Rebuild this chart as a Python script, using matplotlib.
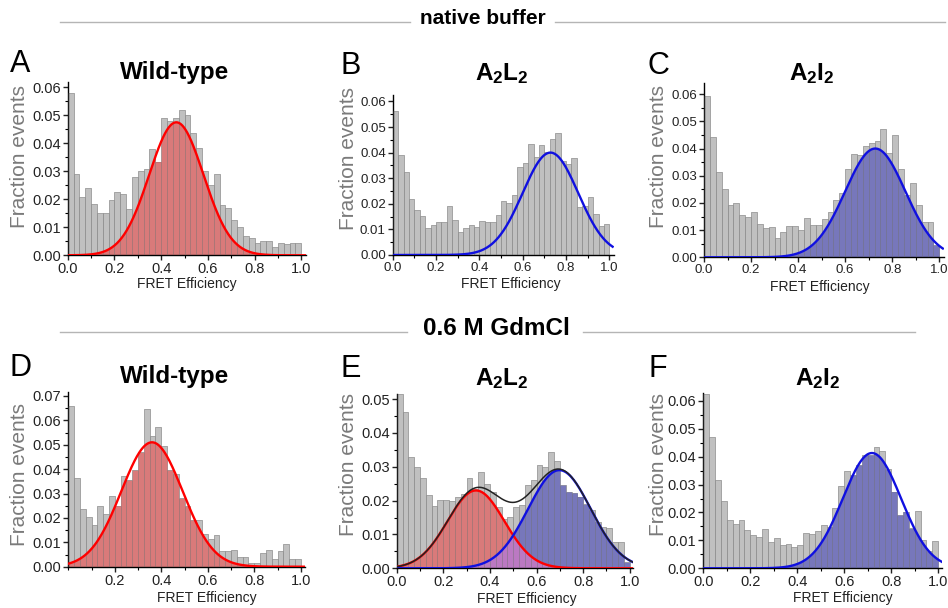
import numpy as np
import matplotlib.pyplot as plt
from matplotlib.ticker import MultipleLocator, FormatStrFormatter

plt.rcParams['font.family'] = ['Liberation Sans', 'DejaVu Sans']
plt.rcParams['mathtext.fontset'] = 'custom'
plt.rcParams['mathtext.bf'] = 'Liberation Sans:bold'

# ------------------------------------------------------------
# Data: 40 bins of width 0.025 on FRET efficiency 0..1
# ------------------------------------------------------------
bin_edges = np.linspace(0.0, 1.0, 41)

hist_a = [0.058, 0.029, 0.0207, 0.024, 0.0183, 0.015, 0.015, 0.0196,
          0.0226, 0.022, 0.0165, 0.028, 0.030, 0.031, 0.038, 0.0335,
          0.049, 0.048, 0.049, 0.052, 0.050, 0.0436, 0.0385, 0.030,
          0.025, 0.029, 0.018, 0.017, 0.0125, 0.010, 0.0069, 0.0061,
          0.0043, 0.0052, 0.0052, 0.003, 0.0045, 0.0039, 0.0045, 0.0045]
hist_b = [0.0563, 0.039, 0.0323, 0.022, 0.0177, 0.0154, 0.0105, 0.0119,
          0.013, 0.0127, 0.019, 0.0135, 0.0091, 0.0105, 0.0116, 0.0111,
          0.0134, 0.0127, 0.0129, 0.0157, 0.0211, 0.0205, 0.0233, 0.0342,
          0.036, 0.0434, 0.0384, 0.0428, 0.0403, 0.0452, 0.0477, 0.0367,
          0.0357, 0.038, 0.0189, 0.0192, 0.0228, 0.0162, 0.0115, 0.012]
hist_c = [0.0595, 0.0442, 0.0315, 0.0252, 0.0194, 0.0199, 0.0156, 0.0147,
          0.0168, 0.0121, 0.0107, 0.0113, 0.0071, 0.0094, 0.0115, 0.0115,
          0.010, 0.0146, 0.0119, 0.0117, 0.0141, 0.0168, 0.0211, 0.0236,
          0.0324, 0.038, 0.0377, 0.041, 0.042, 0.0428, 0.0472, 0.0383,
          0.045, 0.0324, 0.023, 0.0275, 0.0193, 0.0129, 0.0128, 0.0045]
hist_d = [0.066, 0.0364, 0.0235, 0.0202, 0.0171, 0.025, 0.0218, 0.029,
          0.025, 0.037, 0.0355, 0.0396, 0.0469, 0.0646, 0.0535, 0.0574,
          0.0495, 0.0396, 0.038, 0.028, 0.0248, 0.0191, 0.0191, 0.0136,
          0.0112, 0.013, 0.0065, 0.0065, 0.007, 0.004, 0.004, 0.0016,
          0.0016, 0.0055, 0.007, 0.0031, 0.0065, 0.0095, 0.0031, 0.003]
hist_e = [0.0514, 0.0463, 0.0328, 0.0298, 0.0268, 0.0217, 0.0184, 0.0202,
          0.0202, 0.020, 0.021, 0.022, 0.0268, 0.0233, 0.0285, 0.0248,
          0.0226, 0.0182, 0.0146, 0.0153, 0.0182, 0.0187, 0.0246, 0.026,
          0.0305, 0.030, 0.0344, 0.0317, 0.0246, 0.0226, 0.0223, 0.0212,
          0.0189, 0.0172, 0.0138, 0.0123, 0.0118, 0.0079, 0.0079, 0.0018]
hist_f = [0.0624, 0.0472, 0.0317, 0.0241, 0.0174, 0.0158, 0.0174, 0.0137,
          0.012, 0.0112, 0.0141, 0.0096, 0.0108, 0.0084, 0.0087, 0.0076,
          0.0084, 0.0128, 0.0122, 0.0134, 0.0155, 0.0149, 0.0215, 0.0296,
          0.035, 0.0335, 0.037, 0.0406, 0.0406, 0.0436, 0.042, 0.0355,
          0.0275, 0.0191, 0.0203, 0.0143, 0.0205, 0.0101, 0.0062, 0.0099]

# Gaussian fits: (amplitude, centre, sigma)
fit_a = (0.0475, 0.465, 0.116)
fit_b = (0.040, 0.728, 0.128)
fit_c = (0.040, 0.728, 0.128)
fit_d = (0.051, 0.360, 0.132)
fit_e_low = (0.023, 0.340, 0.122)
fit_e_high = (0.029, 0.698, 0.134)
fit_f = (0.0413, 0.718, 0.124)

RED_FILL = '#d97a7a'
BLUE_FILL = '#7777bb'
PURPLE_FILL = '#bb79c2'
GRAY = '#c0c0c0'


def gauss(x, p):
    a, mu, s = p
    return a * np.exp(-(x - mu) ** 2 / (2 * s ** 2))


def clipped_fill(ax, hist, curve, color, z=2):
    # fill the part of every bar that lies under the fit curve
    xs, ys = [], []
    for h, e0, e1 in zip(hist, bin_edges[:-1], bin_edges[1:]):
        x = np.linspace(e0, e1, 25)
        xs.append(x)
        ys.append(np.minimum(h, curve(x)))
    ax.fill_between(np.concatenate(xs), 0, np.concatenate(ys),
                    color=color, lw=0, zorder=z)


W, H = 948, 608
fig = plt.figure(figsize=(W / 100, H / 100), dpi=100)


def add_axes(l, t, r, b):
    return fig.add_axes([l / W, 1 - b / H, (r - l) / W, (b - t) / H])


def style(ax, ylim, xlim, fs, show_zero=True):
    ax.set_xlim(*xlim)
    ax.set_ylim(0, ylim)
    for s in ['top', 'right']:
        ax.spines[s].set_visible(False)
    for s in ['left', 'bottom']:
        ax.spines[s].set_linewidth(1.0)
    ax.xaxis.set_major_locator(MultipleLocator(0.2))
    ax.xaxis.set_minor_locator(MultipleLocator(0.1))
    ax.yaxis.set_major_locator(MultipleLocator(0.01))
    ax.yaxis.set_minor_locator(MultipleLocator(0.005))
    ax.xaxis.set_major_formatter(FormatStrFormatter('%.1f'))
    ax.yaxis.set_major_formatter(FormatStrFormatter('%.2f'))
    ax.tick_params(which='major', direction='out', length=3.5, width=1,
                   labelsize=fs, pad=1.5, colors='#222222')
    ax.tick_params(which='minor', direction='out', length=2, width=0.8)
    if not show_zero:
        ax.set_xticks([0.2, 0.4, 0.6, 0.8, 1.0])


def draw_hist(ax, hist):
    ax.bar(bin_edges[:-1], hist, width=0.025, align='edge', color=GRAY,
           edgecolor='#b0b0b0', linewidth=0.6, zorder=1)


def draw_edges(ax, hist):
    ax.bar(bin_edges[:-1], hist, width=0.025, align='edge', facecolor='none',
           edgecolor=(0.45, 0.45, 0.45, 0.3), linewidth=0.6, zorder=3)


xx = np.linspace(0, 1.015, 400)

panels = [
    # hist, fits, fill colours, line colours, axes px box, ylim, xlim, fontsize, zero label
    (hist_a, [fit_a], [RED_FILL], ['red'], (67.7, 82, 306, 255.3), 0.0619, (0, 1.02), 10.5, True),
    (hist_b, [fit_b], [None], ['#1010e0'], (392.7, 95, 613.7, 255), 0.0625, (0, 1.02), 9.5, True),
    (hist_c, [fit_c], [BLUE_FILL], ['#1010e0'], (704, 83.3, 944, 257.3), 0.064, (0, 1.02), 9.5, True),
    (hist_d, [fit_d], [RED_FILL], ['red'], (68.3, 392.3, 305.4, 566.7), 0.0715, (0, 1.02), 10.5, False),
    (hist_e, [fit_e_low, fit_e_high], [RED_FILL, BLUE_FILL], ['red', '#1010e0'],
     (396.7, 394.3, 633.3, 568.3), 0.0514, (0, 1.015), 10.5, True),
    (hist_f, [fit_f], [BLUE_FILL], ['#1010e0'], (703.3, 393.3, 941.7, 568.3), 0.0627, (0, 1.015), 10.5, True),
]

for hist, fits, fills, lines, box, ylim, xlim, fs, zero in panels:
    ax = add_axes(*box)
    draw_hist(ax, hist)
    for p, fc in zip(fits, fills):
        if fc is not None:
            clipped_fill(ax, hist, lambda x, p=p: gauss(x, p), fc)
    if len(fits) == 2:
        clipped_fill(ax, hist,
                     lambda x: np.minimum(gauss(x, fits[0]), gauss(x, fits[1])),
                     PURPLE_FILL, z=2.5)
    draw_edges(ax, hist)
    for p, lc in zip(fits, lines):
        ax.plot(xx, gauss(xx, p), color=lc, lw=1.7, zorder=5)
    if len(fits) == 2:
        ax.plot(xx, gauss(xx, fits[0]) + gauss(xx, fits[1]), color='#222222', lw=1.1, zorder=6)
    style(ax, ylim, xlim, fs, zero)

# ------------------------------------------------------------
# Labels and headers (figure pixel coordinates)
# ------------------------------------------------------------
def ftext(x, y, s, **kw):
    fig.text(x / W, 1 - y / H, s, **kw)


ylab_pos = [(20, 156), (348, 158), (658, 157), (20, 474), (348, 465), (658, 464)]
for x, y in ylab_pos:
    ftext(x, y, 'Fraction events', rotation=90, ha='center', va='center',
          fontsize=15, color='#7a7a7a')

xlab_pos = [(187, 284), (511, 284), (820, 287), (207, 598), (527, 599), (843, 598)]
for x, y in xlab_pos:
    ftext(x, y, 'FRET Efficiency', ha='center', va='center', fontsize=10, color='#222222')

letters = [('A', 20, 64), ('B', 351, 66), ('C', 658, 66),
           ('D', 20, 368), ('E', 351, 369), ('F', 658, 369)]
for s, x, y in letters:
    ftext(x, y, s, ha='center', va='center', fontsize=22)

titles = [('Wild-type', 175, 72), (r'$\mathbf{A_2L_2}$', 502, 74), (r'$\mathbf{A_2I_2}$', 812, 74),
          ('Wild-type', 175, 376), (r'$\mathbf{A_2L_2}$', 502, 379), (r'$\mathbf{A_2I_2}$', 818, 379)]
for s, x, y in titles:
    ftext(x, y, s, ha='center', va='center', fontsize=17.5, fontweight='bold')

headers = [('native buffer', 483, 19, 15, (60, 410), (555, 945)),
           ('0.6 M GdmCl', 496, 329, 17.5, (60, 407), (583, 915))]
for s, xc, y, fs, seg1, seg2 in headers:
    ftext(xc, y, s, ha='center', va='center', fontsize=fs, fontweight='bold')
    for seg in (seg1, seg2):
        fig.add_artist(plt.Line2D([seg[0] / W, seg[1] / W], [1 - (y + 3) / H] * 2,
                                  color='#b5b5b5', lw=1.0))

fig.savefig('out.png', dpi=100)
